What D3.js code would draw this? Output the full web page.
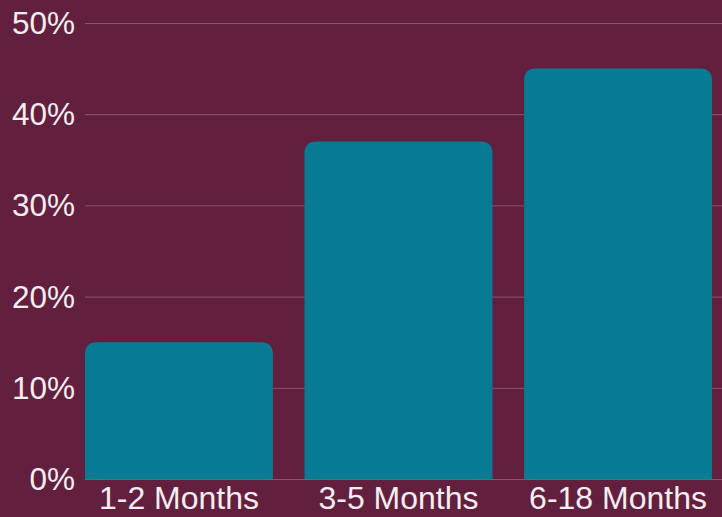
<!DOCTYPE html>
<html>
<head>
<meta charset="utf-8">
<script src="https://cdn.jsdelivr.net/npm/d3@7"></script>
<style>
  html, body { margin: 0; padding: 0; background: #621f3e; }
  svg { display: block; }
  text { font-family: "Liberation Sans", Arial, sans-serif; fill: #f6eef1; }
</style>
</head>
<body>
<div id="chart"></div>
<script>
const categories = ['1-2 Months', '3-5 Months', '6-18 Months'];
const values = [15, 37, 45];
const yTicks = [0, 10, 20, 30, 40, 50];

const width = 722, height = 517;
const plotLeft = 85, plotRight = 712, plotTop = 23, plotBottom = 479;

const svg = d3.select('#chart').append('svg')
  .attr('width', width)
  .attr('height', height);

svg.append('rect')
  .attr('width', width).attr('height', height)
  .attr('fill', '#621f3e');

const x = d3.scaleBand()
  .domain(categories)
  .range([plotLeft, plotRight])
  .paddingInner(0.144)
  .paddingOuter(0);

const y = d3.scaleLinear()
  .domain([0, 50])
  .range([plotBottom, plotTop]);

// grid lines
svg.append('g')
  .selectAll('line')
  .data(yTicks)
  .join('line')
  .attr('x1', plotLeft).attr('x2', width)
  .attr('y1', d => y(d) + 0.5).attr('y2', d => y(d) + 0.5)
  .attr('stroke', '#8c5670')
  .attr('stroke-width', 1);

// y labels
svg.append('g')
  .selectAll('text')
  .data(yTicks)
  .join('text')
  .attr('x', 75)
  .attr('y', d => y(d))
  .attr('dy', '0.35em')
  .attr('text-anchor', 'end')
  .attr('font-size', 31.5)
  .text(d => d + '%');

// bars with rounded top corners
const r = 12;
function barPath(x0, w, yTop, yBase) {
  return `M${x0},${yBase}V${yTop + r}Q${x0},${yTop} ${x0 + r},${yTop}` +
    `H${x0 + w - r}Q${x0 + w},${yTop} ${x0 + w},${yTop + r}V${yBase}Z`;
}

svg.append('g')
  .selectAll('path')
  .data(values)
  .join('path')
  .attr('d', (d, i) => barPath(x(categories[i]), x.bandwidth(), y(d), y(0)))
  .attr('fill', '#077b94');

// x labels
svg.append('g')
  .selectAll('text')
  .data(categories)
  .join('text')
  .attr('x', d => x(d) + x.bandwidth() / 2)
  .attr('y', 509)
  .attr('text-anchor', 'middle')
  .attr('font-size', 32)
  .text(d => d);
</script>
</body>
</html>
